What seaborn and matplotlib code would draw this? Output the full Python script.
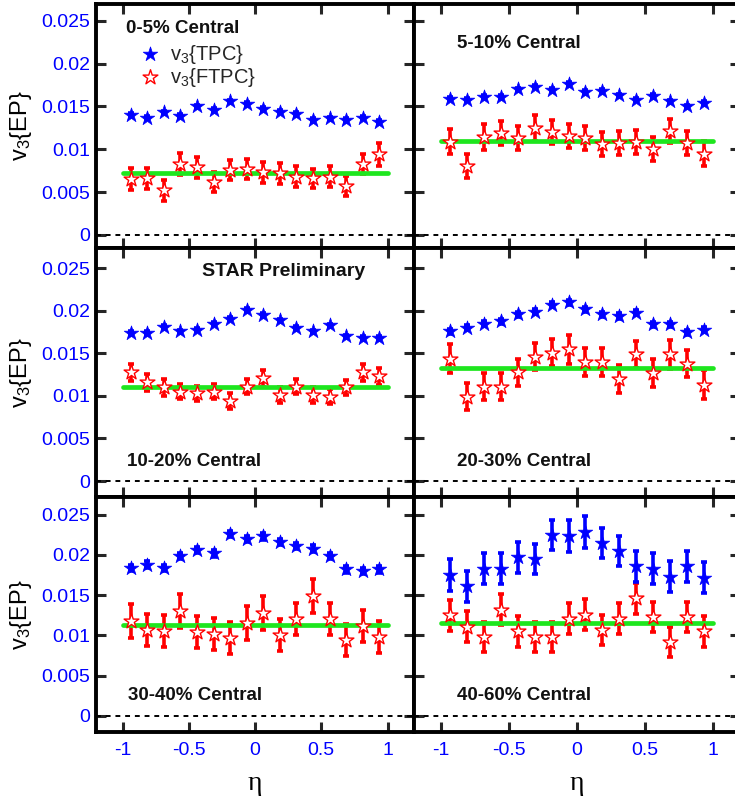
import matplotlib
matplotlib.use("Agg")
import matplotlib.pyplot as plt
import seaborn as sns

# pseudorapidity bin centres (16 bins of width 0.125)
eta = [-0.9375, -0.8125, -0.6875, -0.5625, -0.4375, -0.3125, -0.1875, -0.0625,
       0.0625, 0.1875, 0.3125, 0.4375, 0.5625, 0.6875, 0.8125, 0.9375]
fit_eta = [-1.0, 1.0]

# 0-5%
tpc_0_5 = [0.0140, 0.0137, 0.0143, 0.0139, 0.0150, 0.0146, 0.0156, 0.0153,
           0.0147, 0.0144, 0.0141, 0.0134, 0.0136, 0.0134, 0.0137, 0.0132]
tpc_err_0_5 = [0.0002] * 16
ftpc_0_5 = [0.0065, 0.0066, 0.0052, 0.0083, 0.0079, 0.0062, 0.0076, 0.0077,
            0.0073, 0.0072, 0.0068, 0.0066, 0.0068, 0.0057, 0.0083, 0.0094]
ftpc_err_0_5 = [0.0013, 0.0012, 0.0012, 0.0013, 0.0012, 0.0012, 0.0012, 0.0012,
                0.0012, 0.0012, 0.0012, 0.0011, 0.0012, 0.0012, 0.0012, 0.0013]
fit_0_5 = 0.0072

# 5-10%
tpc_5_10 = [0.0159, 0.0158, 0.0161, 0.0161, 0.0170, 0.0173, 0.0169, 0.0176,
            0.0167, 0.0168, 0.0163, 0.0158, 0.0162, 0.0156, 0.0150, 0.0154]
tpc_err_5_10 = [0.0002] * 16
ftpc_5_10 = [0.0109, 0.0081, 0.0114, 0.0119, 0.0113, 0.0125, 0.0120, 0.0116,
             0.0113, 0.0106, 0.0107, 0.0109, 0.0100, 0.0121, 0.0107, 0.0095]
ftpc_err_5_10 = [0.0015, 0.0014, 0.0015, 0.0014, 0.0014, 0.0015, 0.0014, 0.0014,
                 0.0014, 0.0014, 0.0014, 0.0014, 0.0014, 0.0014, 0.0014, 0.0015]
fit_5_10 = 0.0110

# 10-20%
tpc_10_20 = [0.0174, 0.0174, 0.0181, 0.0176, 0.0178, 0.0185, 0.0191, 0.0201,
             0.0195, 0.0189, 0.0180, 0.0176, 0.0183, 0.0170, 0.0168, 0.0168]
tpc_err_10_20 = [0.0002] * 16
ftpc_10_20 = [0.0128, 0.0116, 0.0110, 0.0105, 0.0103, 0.0105, 0.0094, 0.0111,
              0.0121, 0.0101, 0.0111, 0.0101, 0.0099, 0.0110, 0.0128, 0.0123]
ftpc_err_10_20 = [0.0010, 0.0010, 0.0010, 0.0009, 0.0009, 0.0009, 0.0009, 0.0009,
                  0.0010, 0.0009, 0.0009, 0.0009, 0.0009, 0.0009, 0.0010, 0.0010]
fit_10_20 = 0.0111

# 20-30%
tpc_20_30 = [0.0176, 0.0180, 0.0185, 0.0188, 0.0196, 0.0199, 0.0207, 0.0210,
             0.0202, 0.0196, 0.0194, 0.0198, 0.0184, 0.0184, 0.0175, 0.0178]
tpc_err_20_30 = [0.0003] * 16
ftpc_20_30 = [0.0144, 0.0099, 0.0111, 0.0111, 0.0128, 0.0146, 0.0151, 0.0155,
              0.0140, 0.0140, 0.0120, 0.0149, 0.0127, 0.0149, 0.0138, 0.0113]
ftpc_err_20_30 = [0.0017, 0.0016, 0.0016, 0.0016, 0.0016, 0.0016, 0.0016, 0.0017,
                  0.0016, 0.0016, 0.0016, 0.0016, 0.0016, 0.0017, 0.0016, 0.0017]
fit_20_30 = 0.0133

# 30-40%
tpc_30_40 = [0.0184, 0.0188, 0.0184, 0.0199, 0.0206, 0.0202, 0.0226, 0.0220,
             0.0223, 0.0216, 0.0211, 0.0208, 0.0199, 0.0182, 0.0180, 0.0182]
tpc_err_30_40 = [0.0004] * 16
ftpc_30_40 = [0.0118, 0.0107, 0.0106, 0.0130, 0.0104, 0.0102, 0.0097, 0.0115,
              0.0128, 0.0101, 0.0120, 0.0149, 0.0120, 0.0094, 0.0112, 0.0098]
ftpc_err_30_40 = [0.0021, 0.0020, 0.0020, 0.0021, 0.0020, 0.0020, 0.0020, 0.0021,
                  0.0021, 0.0020, 0.0020, 0.0021, 0.0020, 0.0020, 0.0020, 0.0020]
fit_30_40 = 0.0113

# 40-60%
tpc_40_60 = [0.0175, 0.0161, 0.0183, 0.0183, 0.0197, 0.0195, 0.0225, 0.0224,
             0.0229, 0.0215, 0.0205, 0.0186, 0.0183, 0.0173, 0.0186, 0.0172]
tpc_err_40_60 = [0.0020, 0.0019, 0.0019, 0.0019, 0.0019, 0.0019, 0.0019, 0.0020,
                 0.0020, 0.0019, 0.0019, 0.0019, 0.0019, 0.0019, 0.0019, 0.0019]
ftpc_40_60 = [0.0125, 0.0111, 0.0098, 0.0132, 0.0105, 0.0098, 0.0098, 0.0121,
              0.0126, 0.0107, 0.0121, 0.0146, 0.0123, 0.0092, 0.0123, 0.0105]
ftpc_err_40_60 = [0.0019, 0.0019, 0.0019, 0.0019, 0.0019, 0.0019, 0.0019, 0.0019,
                  0.0019, 0.0019, 0.0019, 0.0019, 0.0019, 0.0019, 0.0019, 0.0019]
fit_40_60 = 0.0115

centrality = ["0-5% Central", "5-10% Central", "10-20% Central",
              "20-30% Central", "30-40% Central", "40-60% Central"]

y_ticks = [0, 0.005, 0.01, 0.015, 0.02, 0.025]
y_tick_labels = ["0", "0.005", "0.01", "0.015", "0.02", "0.025"]
x_ticks = [-1, -0.5, 0, 0.5, 1]
x_tick_labels = ["-1", "-0.5", "0", "0.5", "1"]

BLUE = "#0000ff"
RED = "#ff0000"
GREEN = "#1ee61e"

sns.set_theme(style="ticks")
plt.rcParams["font.family"] = ["Liberation Sans", "DejaVu Sans"]
plt.rcParams["mathtext.fontset"] = "custom"
plt.rcParams["mathtext.rm"] = "Liberation Sans"
plt.rcParams["mathtext.default"] = "regular"

fig = plt.figure(figsize=(7.35, 7.96), dpi=100)

W, H = 735.0, 796.0
col_px = [(96, 318), (414, 326)]
row_px = [(4, 244), (248, 249), (497, 235)]
row_ylim = [(-0.00152, 0.02695), (-0.00188, 0.02739), (-0.00199, 0.02720)]

panels = [
    (tpc_0_5, tpc_err_0_5, ftpc_0_5, ftpc_err_0_5, fit_0_5),
    (tpc_5_10, tpc_err_5_10, ftpc_5_10, ftpc_err_5_10, fit_5_10),
    (tpc_10_20, tpc_err_10_20, ftpc_10_20, ftpc_err_10_20, fit_10_20),
    (tpc_20_30, tpc_err_20_30, ftpc_20_30, ftpc_err_20_30, fit_20_30),
    (tpc_30_40, tpc_err_30_40, ftpc_30_40, ftpc_err_30_40, fit_30_40),
    (tpc_40_60, tpc_err_40_60, ftpc_40_60, ftpc_err_40_60, fit_40_60),
]

# placement of the centrality tag inside each panel (axes fraction)
tag_pos = [(0.094, 0.898), (0.132, 0.84), (0.098, 0.142),
           (0.131, 0.142), (0.102, 0.154), (0.131, 0.154)]

axes = []
for i, (tpc, tpc_err, ftpc, ftpc_err, fit) in enumerate(panels):
    r, c = divmod(i, 2)
    x0, w = col_px[c]
    y0, h = row_px[r]
    ax = fig.add_axes([x0 / W, 1 - (y0 + h) / H, w / W, h / H])
    axes.append(ax)

    ax.axhline(0, color="black", lw=1.4, ls=(0, (2.5, 2.5)), zorder=1)
    ax.errorbar(eta, ftpc, yerr=ftpc_err, fmt="none", ecolor=RED,
                elinewidth=2.6, capsize=2.0, capthick=2.6, zorder=2)
    ax.errorbar(eta, tpc, yerr=tpc_err, fmt="none", ecolor=BLUE,
                elinewidth=2.6, capsize=2.0, capthick=2.6, zorder=2)
    sns.lineplot(x=fit_eta, y=[fit, fit], color=GREEN, lw=3.4, ax=ax, zorder=3)
    sns.scatterplot(x=eta, y=ftpc, marker="*", s=125, color="white",
                    edgecolor=RED, linewidth=1.0, ax=ax, zorder=4,
                    label="v$_{3}${FTPC}" if i == 0 else None)
    sns.scatterplot(x=eta, y=tpc, marker="*", s=120, color=BLUE,
                    edgecolor=BLUE, linewidth=0.5, ax=ax, zorder=5,
                    label="v$_{3}${TPC}" if i == 0 else None)

    ax.set_xlim(-1.2, 1.2)
    ax.set_ylim(*row_ylim[r])
    ax.set_xticks(x_ticks)
    ax.set_yticks(y_ticks)
    ax.tick_params(direction="in", length=7, width=2.2, top=True, right=True,
                   labelcolor=BLUE, labelsize=14, pad=4)
    ax.tick_params(axis="x", pad=7)
    if c == 0:
        ax.set_yticklabels(y_tick_labels)
        ax.set_ylabel("v$_{3}${EP}", fontsize=17, color="black")
        ax.yaxis.set_label_coords(-0.195, 0.5)
    else:
        ax.set_yticklabels([])
        ax.set_ylabel("")
    if r == 2:
        ax.set_xticklabels(x_tick_labels)
        ax.set_xlabel("η", fontsize=20, family=["Liberation Serif", "DejaVu Serif"],
                      color="black", va="center")
        ax.xaxis.set_label_coords(0.5, -0.218)
    else:
        ax.set_xticklabels([])
        ax.set_xlabel("")
    for sp in ax.spines.values():
        sp.set_linewidth(2.8)
        sp.set_color("black")

    tx, ty = tag_pos[i]
    ax.text(tx, ty, centrality[i], transform=ax.transAxes, fontsize=13.5,
            fontweight="bold", color="#111111", ha="left", va="center", zorder=6)

# legend in the most central panel
handles, labels = axes[0].get_legend_handles_labels()
order = [labels.index("v$_{3}${TPC}"), labels.index("v$_{3}${FTPC}")]
axes[0].legend([handles[k] for k in order], [labels[k] for k in order],
               loc="upper left", bbox_to_anchor=(0.10, 0.875), frameon=False,
               fontsize=14.5, handletextpad=0.3, borderaxespad=0,
               labelspacing=0.0, handlelength=1.4, markerscale=1.0)
for ax in axes[1:]:
    leg = ax.get_legend()
    if leg is not None:
        leg.remove()

axes[2].text(0.332, 0.905, "STAR Preliminary", transform=axes[2].transAxes,
             fontsize=14, fontweight="bold", color="#111111",
             ha="left", va="center")

fig.savefig("out.png", dpi=100)
